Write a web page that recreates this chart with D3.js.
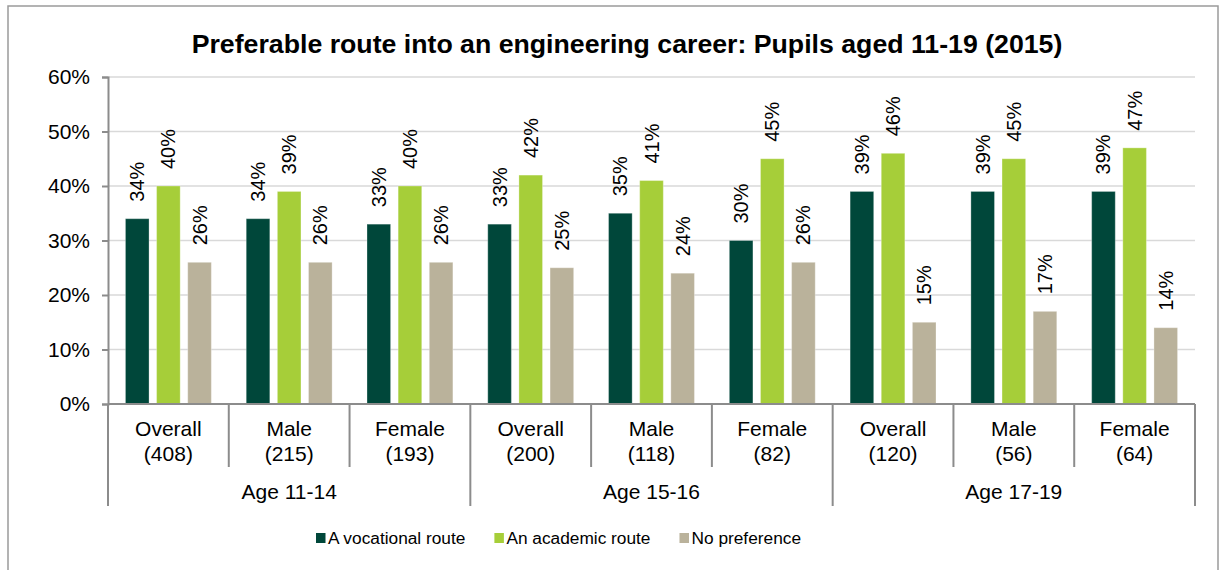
<!DOCTYPE html>
<html>
<head>
<meta charset="utf-8">
<script src="https://cdn.jsdelivr.net/npm/d3@7"></script>
<style>
  html, body { margin: 0; padding: 0; background: #fff; }
  svg { display: block; font-family: "Liberation Sans", Arial, sans-serif; }
</style>
</head>
<body>
<svg id="chart" width="1223" height="570"></svg>
<script>
// ---- Data ----
const title = "Preferable route into an engineering career: Pupils aged 11-19 (2015)";
const groups = ["Age 11-14", "Age 15-16", "Age 17-19"];
const subCategories = ["Overall", "Male", "Female", "Overall", "Male", "Female", "Overall", "Male", "Female"];
const sampleSizes = ["(408)", "(215)", "(193)", "(200)", "(118)", "(82)", "(120)", "(56)", "(64)"];
const seriesNames = ["A vocational route", "An academic route", "No preference"];
const vocational = [34, 34, 33, 33, 35, 30, 39, 39, 39];
const academic   = [40, 39, 40, 42, 41, 45, 46, 45, 47];
const noPref     = [26, 26, 26, 25, 24, 26, 15, 17, 14];
const yTicks = [0, 10, 20, 30, 40, 50, 60];
const colors = ["#00473A", "#A6CE39", "#BAB29B"];

const seriesValues = [vocational, academic, noPref];
const catIndex = d3.range(subCategories.length);

// ---- Layout ----
const svg = d3.select("#chart");
const W = 1223, H = 570;
const plot = { left: 108, right: 1195, top: 77, bottom: 404 };

// outer border
svg.append("rect")
  .attr("x", 8).attr("y", 6)
  .attr("width", 1210).attr("height", H + 10)
  .attr("fill", "#fff").attr("stroke", "#9a9a9a").attr("stroke-width", 1.5);

// title
svg.append("text")
  .attr("x", 627).attr("y", 53)
  .attr("text-anchor", "middle")
  .attr("font-weight", "bold")
  .attr("font-size", "26.7px")
  .attr("fill", "#000")
  .text(title);

// scales
const x = d3.scaleBand().domain(catIndex).range([plot.left, plot.right]).padding(0);
const xInner = d3.scaleBand().domain(d3.range(seriesNames.length))
  .range([0, x.bandwidth()]).paddingInner(0.242).paddingOuter(0.56);
const y = d3.scaleLinear().domain([0, 60]).range([plot.bottom, plot.top]);

// gridlines
svg.append("g").selectAll("line").data(yTicks.filter(t => t > 0)).join("line")
  .attr("x1", plot.left).attr("x2", plot.right)
  .attr("y1", d => y(d)).attr("y2", d => y(d))
  .attr("stroke", "#d9d9d9").attr("stroke-width", 1.5);

// y axis
const yAxis = d3.axisLeft(y).tickValues(yTicks).tickSize(6).tickPadding(12)
  .tickFormat(d => d + "%");
const gy = svg.append("g").attr("transform", `translate(${plot.left},0)`).call(yAxis);
gy.select(".domain").attr("stroke", "#8c8c8c").attr("stroke-width", 2);
gy.selectAll(".tick line").attr("stroke", "#8c8c8c").attr("stroke-width", 2);
gy.selectAll(".tick text").attr("font-size", "21px").attr("fill", "#000")
  .attr("font-family", "Liberation Sans, Arial, sans-serif");

// bars
const barG = svg.append("g");
seriesValues.forEach((vals, si) => {
  barG.append("g").selectAll("rect").data(catIndex).join("rect")
    .attr("x", i => x(i) + xInner(si))
    .attr("width", xInner.bandwidth())
    .attr("y", i => y(vals[i]))
    .attr("height", i => y(0) - y(vals[i]))
    .attr("fill", colors[si])
    .attr("stroke", "rgba(255,255,255,0.3)")
    .attr("stroke-width", 1);
});

// data labels (rotated)
seriesValues.forEach((vals, si) => {
  barG.append("g").selectAll("text").data(catIndex).join("text")
    .attr("transform", i => {
      const cx = x(i) + xInner(si) + xInner.bandwidth() / 2;
      const cy = y(vals[i]) - 17;
      return `translate(${cx},${cy}) rotate(-90)`;
    })
    .attr("dy", "0.35em")
    .attr("text-anchor", "start")
    .attr("font-size", "20px")
    .attr("fill", "#000")
    .text(i => vals[i] + "%");
});

// x axis baseline
svg.append("line")
  .attr("x1", plot.left).attr("x2", plot.right)
  .attr("y1", y(0)).attr("y2", y(0))
  .attr("stroke", "#8c8c8c").attr("stroke-width", 2);

// category separators
const boundaries = d3.range(subCategories.length + 1);
svg.append("g").selectAll("line").data(boundaries).join("line")
  .attr("x1", b => plot.left + b * x.step())
  .attr("x2", b => plot.left + b * x.step())
  .attr("y1", y(0))
  .attr("y2", b => (b % 3 === 0) ? 506 : 467)
  .attr("stroke", "#8c8c8c").attr("stroke-width", 2);

// category labels
const catG = svg.append("g").attr("font-size", "21px").attr("fill", "#000").attr("text-anchor", "middle");
catG.selectAll("text.sub").data(catIndex).join("text")
  .attr("class", "sub")
  .attr("x", i => x(i) + x.bandwidth() / 2).attr("y", 436)
  .text(i => subCategories[i]);
catG.selectAll("text.n").data(catIndex).join("text")
  .attr("class", "n")
  .attr("x", i => x(i) + x.bandwidth() / 2).attr("y", 461)
  .text(i => sampleSizes[i]);
catG.selectAll("text.grp").data(groups).join("text")
  .attr("class", "grp")
  .attr("x", (g, gi) => plot.left + (gi * 3 + 1.5) * x.step()).attr("y", 499)
  .text(g => g);

// legend
const legend = svg.append("g");
let lx = 316;
seriesNames.forEach((name, si) => {
  legend.append("rect")
    .attr("x", lx).attr("y", 533).attr("width", 9.5).attr("height", 10)
    .attr("fill", colors[si]);
  const t = legend.append("text")
    .attr("x", lx + 12).attr("y", 544)
    .attr("font-size", "17.3px").attr("fill", "#000")
    .text(name);
  lx += 12 + t.node().getComputedTextLength() + 29;
});
</script>
</body>
</html>
